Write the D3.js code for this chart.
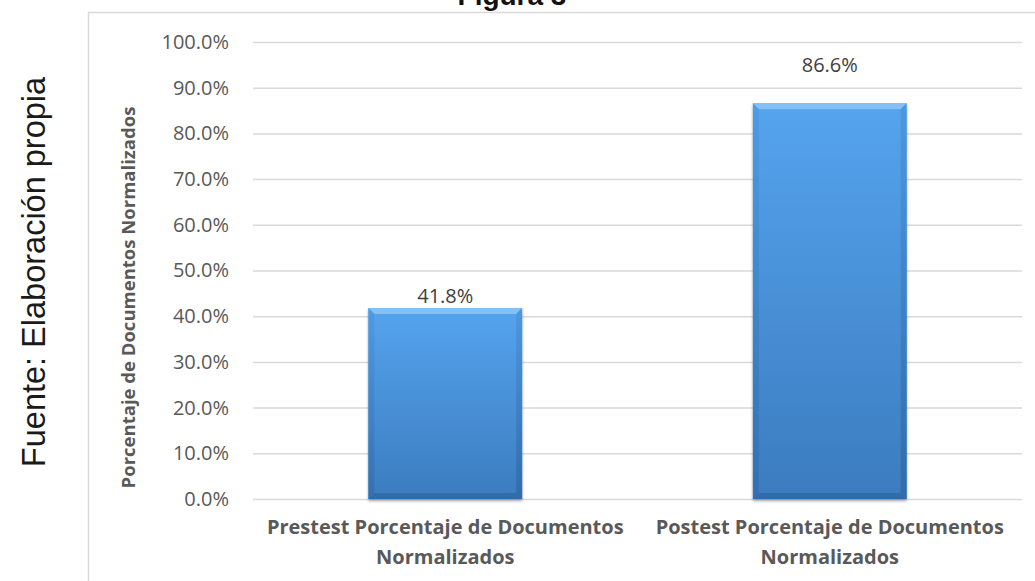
<!DOCTYPE html>
<html>
<head>
<meta charset="utf-8">
<script src="https://cdn.jsdelivr.net/npm/d3@7"></script>
<style>
  html, body { margin: 0; padding: 0; background: #fff; }
  svg { display: block; }
</style>
</head>
<body>
<svg id="chart" width="1035" height="581"></svg>
<script>
// Data
const categories = [
  ["Prestest Porcentaje de Documentos", "Normalizados"],
  ["Postest Porcentaje de Documentos", "Normalizados"]
];
const values = [0.418, 0.866];
const valueLabels = ["41.8%", "86.6%"];
const yTicks = [0, 0.1, 0.2, 0.3, 0.4, 0.5, 0.6, 0.7, 0.8, 0.9, 1.0];
const yTitle = "Porcentaje de Documentos Normalizados";
const chartTitle = "Figura 3";
const sourceNote = "Fuente: Elaboración propia";

const svg = d3.select("#chart");
const plot = { left: 253, right: 1022, top: 42, bottom: 499 };

const x = d3.scaleBand()
  .domain(d3.range(values.length))
  .range([plot.left, plot.right])
  .paddingInner(0.6)
  .paddingOuter(0.3);

const y = d3.scaleLinear().domain([0, 1]).range([plot.bottom, plot.top]);

const defs = svg.append("defs");
const grad = defs.append("linearGradient").attr("id", "barFill")
  .attr("x1", 0).attr("y1", 0).attr("x2", 0).attr("y2", 1);
grad.append("stop").attr("offset", "0%").attr("stop-color", "#55a4ee");
grad.append("stop").attr("offset", "100%").attr("stop-color", "#3b7cbf");

const sideGrad = defs.append("linearGradient").attr("id", "sideFill")
  .attr("x1", 0).attr("y1", 0).attr("x2", 0).attr("y2", 1);
sideGrad.append("stop").attr("offset", "0%").attr("stop-color", "#4a95dd");
sideGrad.append("stop").attr("offset", "100%").attr("stop-color", "#2f68a6");

const shadow = defs.append("filter").attr("id", "shadow")
  .attr("x", "-10%").attr("y", "-10%").attr("width", "120%").attr("height", "120%");
shadow.append("feGaussianBlur").attr("in", "SourceAlpha").attr("stdDeviation", 1.5);
shadow.append("feOffset").attr("dx", 0).attr("dy", 2).attr("result", "ob");
shadow.append("feComponentTransfer").append("feFuncA").attr("type", "linear").attr("slope", 0.35);
const merge = shadow.append("feMerge");
merge.append("feMergeNode");
merge.append("feMergeNode").attr("in", "SourceGraphic");

// Chart frame
svg.append("rect")
  .attr("x", 88.5).attr("y", 12.5)
  .attr("width", 1060).attr("height", 600)
  .attr("fill", "none").attr("stroke", "#d9d9d9").attr("stroke-width", 1.5);

// Title (sits at the very top edge)
svg.append("text")
  .attr("x", 512).attr("y", 5)
  .attr("text-anchor", "middle")
  .attr("font-family", "Liberation Sans, Arial, sans-serif")
  .attr("font-weight", "bold").attr("font-size", 28)
  .attr("fill", "#111")
  .text(chartTitle);

// Source note
svg.append("text")
  .attr("transform", "translate(45,272) rotate(-90)")
  .attr("text-anchor", "middle")
  .attr("font-family", "Liberation Sans, Arial, sans-serif")
  .attr("font-size", 32.5)
  .attr("fill", "#1a1a1a")
  .text(sourceNote);

// Gridlines and tick labels
const yAxis = d3.axisLeft(y).tickValues(yTicks)
  .tickSize(-(plot.right - plot.left))
  .tickPadding(24)
  .tickFormat(d3.format(".1%"));
const gy = svg.append("g").attr("transform", `translate(${plot.left},0)`).call(yAxis);
gy.select(".domain").remove();
gy.selectAll(".tick line").attr("stroke", "#d9d9d9").attr("stroke-width", 1.5);
gy.selectAll(".tick text")
  .attr("font-family", "Open Sans, sans-serif")
  .attr("font-size", 20)
  .attr("fill", "#595959");

// Y axis title
svg.append("text")
  .attr("transform", `translate(135,${(plot.top + plot.bottom) / 2 + 27}) rotate(-90)`)
  .attr("text-anchor", "middle")
  .attr("font-family", "Open Sans, sans-serif")
  .attr("font-weight", "bold").attr("font-size", 18.5)
  .attr("fill", "#595959")
  .text(yTitle);

// Bars with bevelled edges
const bev = 6;
const bars = svg.append("g").selectAll("g.bar").data(values).join("g").attr("class", "bar");
bars.each(function (v, i) {
  const g = d3.select(this);
  const x0 = x(i), x1 = x(i) + x.bandwidth();
  const y0 = y(v), y1 = y(0);
  g.append("rect")
    .attr("x", x0).attr("y", y0).attr("width", x1 - x0).attr("height", y1 - y0)
    .attr("fill", "url(#barFill)").attr("filter", "url(#shadow)");
  // top bevel
  g.append("path")
    .attr("d", `M${x0},${y0}L${x1},${y0}L${x1 - bev},${y0 + bev}L${x0 + bev},${y0 + bev}Z`)
    .attr("fill", "#8cc6f6").attr("opacity", 0.85);
  // left bevel
  g.append("path")
    .attr("d", `M${x0},${y0}L${x0 + bev},${y0 + bev}L${x0 + bev},${y1 - bev}L${x0},${y1}Z`)
    .attr("fill", "url(#sideFill)").attr("opacity", 0.6);
  // right bevel
  g.append("path")
    .attr("d", `M${x1},${y0}L${x1 - bev},${y0 + bev}L${x1 - bev},${y1 - bev}L${x1},${y1}Z`)
    .attr("fill", "url(#sideFill)").attr("opacity", 0.8);
  // bottom bevel
  g.append("path")
    .attr("d", `M${x0},${y1}L${x0 + bev},${y1 - bev}L${x1 - bev},${y1 - bev}L${x1},${y1}Z`)
    .attr("fill", "#2c5f98").attr("opacity", 0.55);
});

// Value labels
const labelLift = [5, 31];
svg.append("g").selectAll("text").data(values).join("text")
  .attr("x", (d, i) => x(i) + x.bandwidth() / 2)
  .attr("y", (d, i) => y(d) - labelLift[i])
  .attr("text-anchor", "middle")
  .attr("font-family", "Open Sans, sans-serif")
  .attr("font-size", 20)
  .attr("fill", "#404040")
  .text((d, i) => valueLabels[i]);

// Category labels
const cat = svg.append("g").selectAll("text").data(categories).join("text")
  .attr("x", (d, i) => x(i) + x.bandwidth() / 2)
  .attr("y", 534)
  .attr("text-anchor", "middle")
  .attr("font-family", "Open Sans, sans-serif")
  .attr("font-weight", "bold").attr("font-size", 20)
  .attr("fill", "#595959");
cat.each(function (lines) {
  const t = d3.select(this);
  lines.forEach((ln, k) => {
    t.append("tspan")
      .attr("x", t.attr("x"))
      .attr("dy", k === 0 ? 0 : 30)
      .text(ln);
  });
});
</script>
</body>
</html>
